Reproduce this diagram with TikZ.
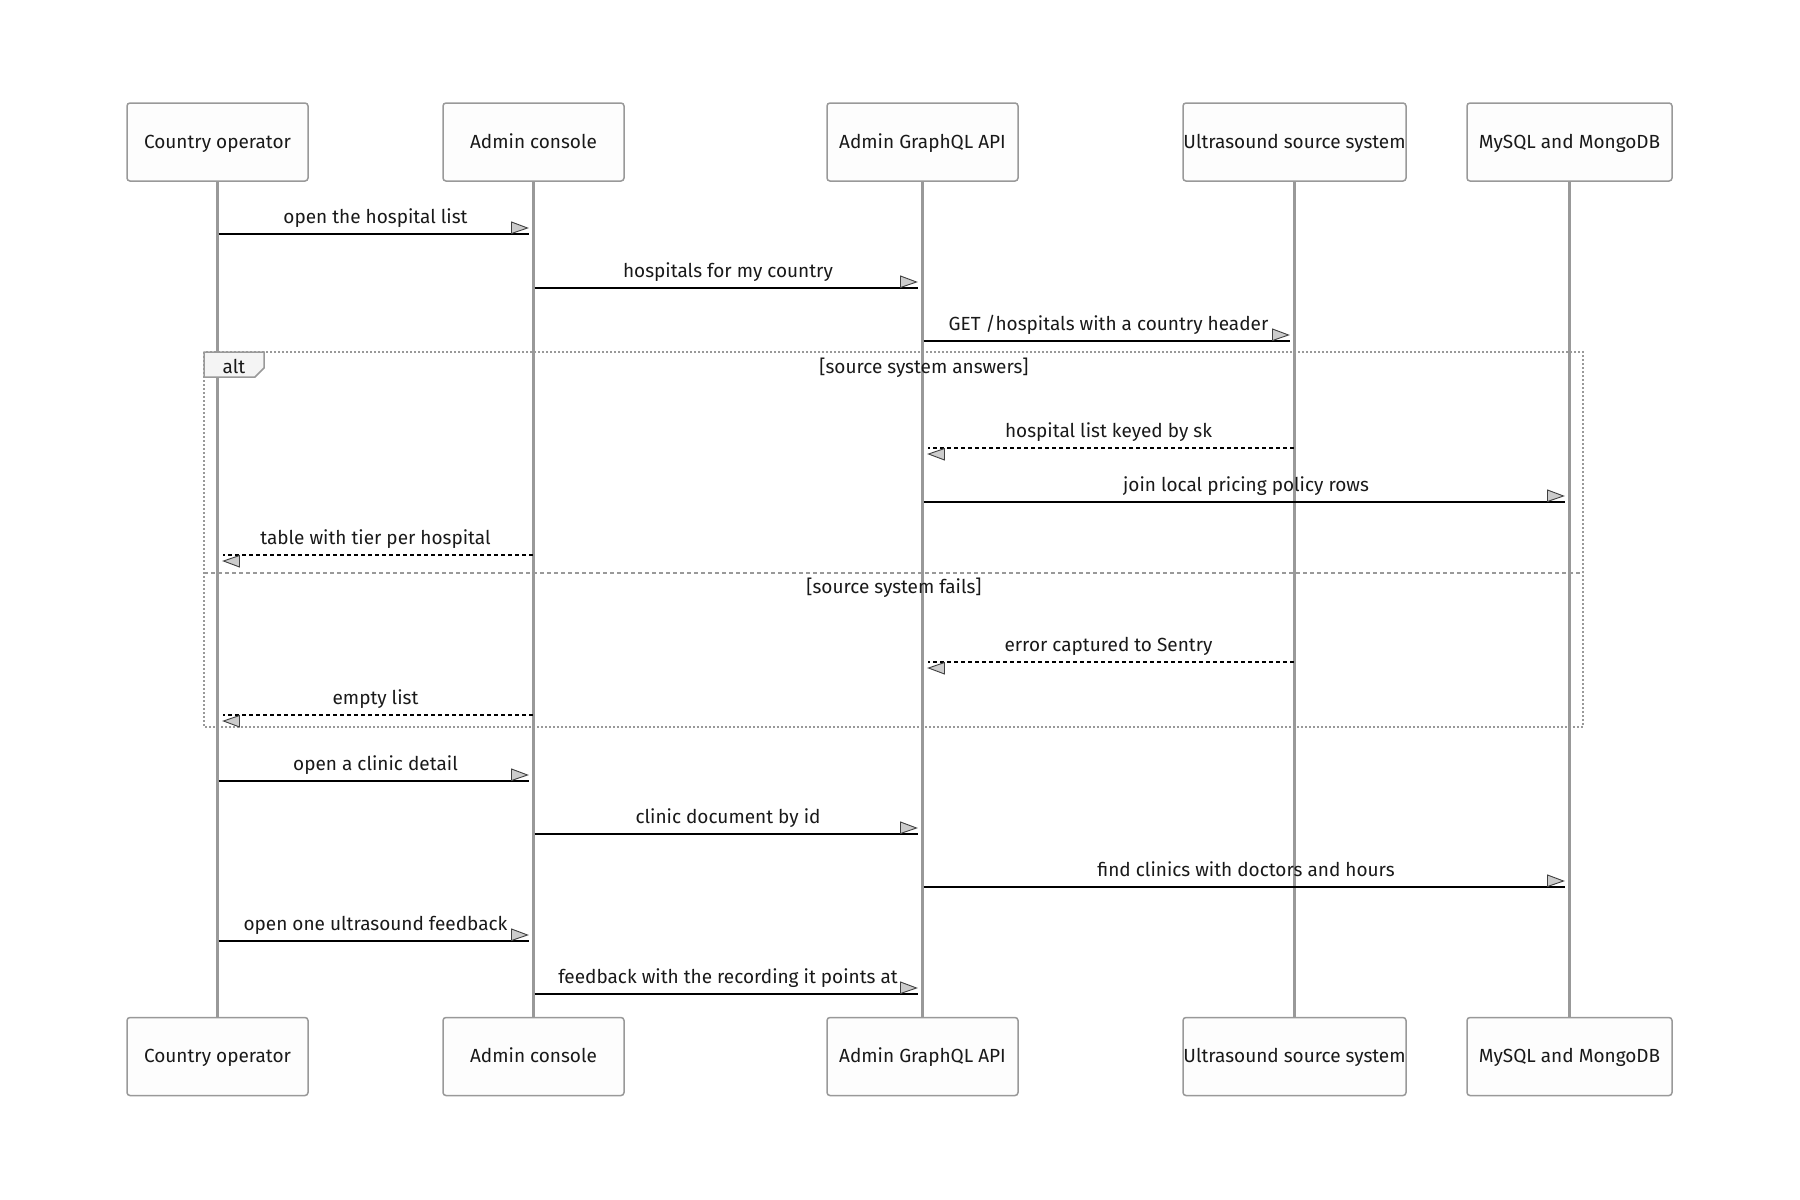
\documentclass[tikz,border=0pt]{standalone}
\usepackage{fontspec}
\setmainfont{Fira Sans}
\usetikzlibrary{arrows.meta}

\definecolor{linegray}{HTML}{999999}
\definecolor{boxfill}{HTML}{FDFDFD}
\definecolor{tabfill}{HTML}{F4F4F4}
\definecolor{tipfill}{HTML}{CCCCCC}

% small triangle sitting beside the message line
\pgfdeclarearrow{
  name = msgtip,
  setup code = {
    \pgfarrowssettipend{0pt}
    \pgfarrowssetlineend{0pt}
    \pgfarrowssetbackend{-18pt}
    \pgfarrowssetvisualbackend{-18pt}
    \pgfarrowshullpoint{0pt}{0pt}
    \pgfarrowshullpoint{-18pt}{12pt}
    \pgfarrowshullpoint{-18pt}{0pt}
  },
  drawing code = {
    \pgfsetdash{}{0pt}
    \pgfsetlinewidth{0.9pt}
    \pgfsetstrokecolor{black!75}
    \pgfsetfillcolor{tipfill}
    \pgfpathmoveto{\pgfpoint{-1pt}{6pt}}
    \pgfpathlineto{\pgfpoint{-17pt}{12pt}}
    \pgfpathlineto{\pgfpoint{-17pt}{0.5pt}}
    \pgfpathclose
    \pgfusepathqfillstroke
  }
}

\tikzset{
  actor/.style={draw=linegray, fill=boxfill, rounded corners=3pt, line width=1.5pt,
    minimum height=78pt, inner sep=0pt, text=black!90, text height=1.38em, text depth=0.16em,
    font=\fontsize{19}{22}\selectfont},
  lifeline/.style={draw=linegray, line width=2.5pt},
  msg/.style={draw=black, line width=2pt, -msgtip, shorten >=5pt, shorten <=1pt},
  reply/.style={msg, dash pattern=on 4pt off 3pt},
  plainlabel/.style={inner sep=0pt, text=black!90, text height=0.72em, text depth=0.2em,
    font=\fontsize{19}{22}\selectfont},
  msglabel/.style={plainlabel, yshift=13pt},
  altframe/.style={draw=linegray, line width=2pt, dash pattern=on 2pt off 2pt},
  altsplit/.style={draw=linegray, line width=2pt, dash pattern=on 4pt off 3pt},
}

\begin{document}
\begin{tikzpicture}[x=1pt,y=-1pt]

      \useasboundingbox (0,0) rectangle (1800,1200);

      \begin{scope}[every node/.style={actor}]
        \node[minimum width=181pt] (t1) at (217.5,142)  {Country operator};
        \node[minimum width=181pt] (t2) at (533.5,142)  {Admin console};
        \node[minimum width=191pt] (t3) at (922.5,142)  {Admin GraphQL API};
        \node[minimum width=223pt] (t4) at (1294.5,142) {Ultrasound source system};
        \node[minimum width=205pt] (t5) at (1569.5,142) {MySQL and MongoDB};
        \node[minimum width=181pt] (b1) at (217.5,1056.5)  {Country operator};
        \node[minimum width=181pt] (b2) at (533.5,1056.5)  {Admin console};
        \node[minimum width=191pt] (b3) at (922.5,1056.5)  {Admin GraphQL API};
        \node[minimum width=223pt] (b4) at (1294.5,1056.5) {Ultrasound source system};
        \node[minimum width=205pt] (b5) at (1569.5,1056.5) {MySQL and MongoDB};
      \end{scope}

      \draw[lifeline] (t1) -- (b1);
      \draw[lifeline] (t2) -- (b2);
      \draw[lifeline] (t3) -- (b3);
      \draw[lifeline] (t4) -- (b4);
      \draw[lifeline] (t5) -- (b5);

      % alt block
      \draw[altframe] (204,352) rectangle (1583,727);
      \draw[altsplit] (204,573) -- (1583,573);
      \draw[draw=linegray, fill=tabfill, line width=1.5pt]
        (204,352) -- (264,352) -- (264,368) -- (255,377) -- (204,377) -- cycle;
      \begin{scope}[every node/.style={plainlabel}]
        \node (alt) at (234,371) {alt};
        \node (ok)  at (924,371) {[source system answers]};
        \node (err) at (894,591) {[source system fails]};
      \end{scope}

      % message rows
      \coordinate (r1)  at (0,234);
      \coordinate (r2)  at (0,288);
      \coordinate (r3)  at (0,341);
      \coordinate (r4)  at (0,448);
      \coordinate (r5)  at (0,502);
      \coordinate (r6)  at (0,555);
      \coordinate (r7)  at (0,662);
      \coordinate (r8)  at (0,715);
      \coordinate (r9)  at (0,781);
      \coordinate (r10) at (0,834);
      \coordinate (r11) at (0,887);
      \coordinate (r12) at (0,941);
      \coordinate (r13) at (0,994);

      \begin{scope}[every node/.style={msglabel}]
        \path (t1 |- r1)  edge[msg]   node {open the hospital list} (t2 |- r1);
        \path (t2 |- r2)  edge[msg]   node {hospitals for my country} (t3 |- r2);
        \path (t3 |- r3)  edge[msg]   node {GET /hospitals with a country header} (t4 |- r3);
        \path (t4 |- r4)  edge[reply] node {hospital list keyed by sk} (t3 |- r4);
        \path (t3 |- r5)  edge[msg]   node {join local pricing policy rows} (t5 |- r5);
        \path (t2 |- r6)  edge[reply] node {table with tier per hospital} (t1 |- r6);
        \path (t4 |- r7)  edge[reply] node {error captured to Sentry} (t3 |- r7);
        \path (t2 |- r8)  edge[reply] node {empty list} (t1 |- r8);
        \path (t1 |- r9)  edge[msg]   node {open a clinic detail} (t2 |- r9);
        \path (t2 |- r10) edge[msg]   node {clinic document by id} (t3 |- r10);
        \path (t3 |- r11) edge[msg]   node {find clinics with doctors and hours} (t5 |- r11);
        \path (t1 |- r12) edge[msg]   node {open one ultrasound feedback} (t2 |- r12);
        \path (t2 |- r13) edge[msg]   node {feedback with the recording it points at} (t3 |- r13);
      \end{scope}

    \end{tikzpicture}
\end{document}
